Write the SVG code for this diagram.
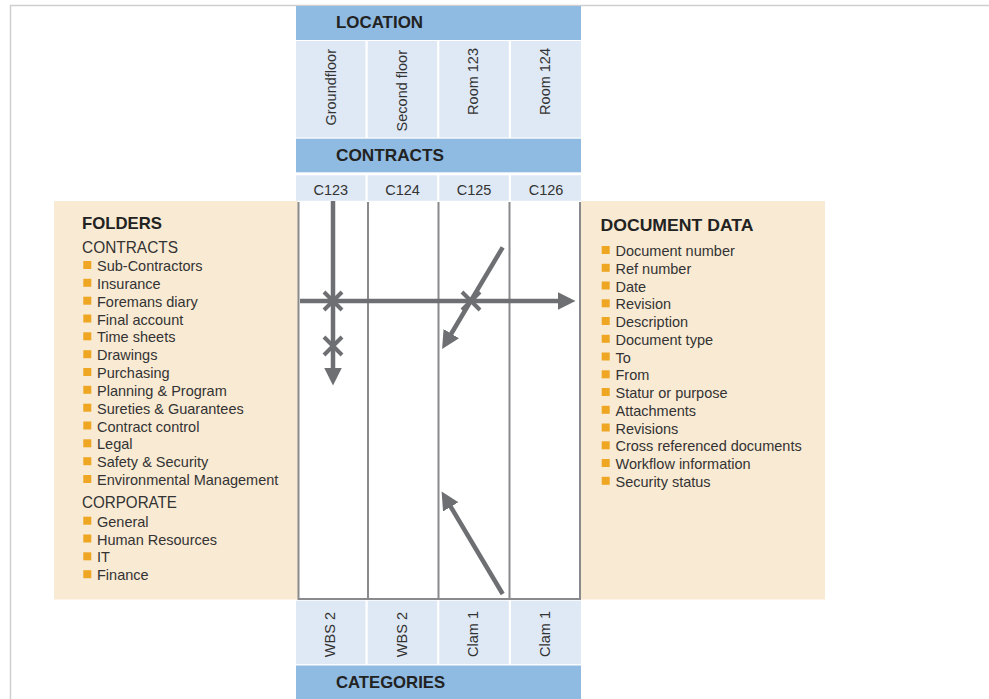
<svg xmlns="http://www.w3.org/2000/svg" width="989" height="699" viewBox="0 0 989 699">
<defs>
<style>
.hdr{fill:#8fbae1}
.cell{fill:#dfe9f5}
.beige{fill:#f9ead3}
.ht{font-family:"Liberation Sans",Arial,sans-serif;font-weight:bold;font-size:17px;fill:#222}
.t{font-family:"Liberation Sans",Arial,sans-serif;font-size:14.5px;fill:#333}
.sub{font-family:"Liberation Sans",Arial,sans-serif;font-size:17px;fill:#333}
.b{fill:#eea623}
.grid{stroke:#8a8a8d;stroke-width:2;fill:none}
.arr{stroke:#6e6f73;stroke-width:4.5;fill:none}
.x{stroke:#6e6f73;stroke-width:4;fill:none}
</style>
<marker id="ah" markerWidth="4" markerHeight="4" refX="1" refY="2" orient="auto" markerUnits="strokeWidth" viewBox="0 0 4 4">
<path d="M0,0 L4,2 L0,4 z" fill="#6e6f73"/>
</marker>
</defs>
<rect width="989" height="699" fill="#fff"/>
<path d="M10.5,699 V5.5 H989" stroke="#cfcfcf" stroke-width="1.5" fill="none"/>

<g id="location">
<rect class="hdr" x="296" y="6" width="285" height="34"/>
<text class="ht" x="336" y="28" textLength="87" lengthAdjust="spacingAndGlyphs">LOCATION</text>
<rect class="cell" x="296" y="41" width="69.5" height="96.5"/>
<rect class="cell" x="367.7" y="41" width="69.5" height="96.5"/>
<rect class="cell" x="439.3" y="41" width="69.5" height="96.5"/>
<rect class="cell" x="511" y="41" width="70" height="96.5"/>
<text class="t" text-anchor="end" transform="translate(336,49) rotate(-90)">Groundfloor</text>
<text class="t" text-anchor="end" transform="translate(407,50) rotate(-90)">Second floor</text>
<text class="t" text-anchor="end" transform="translate(478,48) rotate(-90)">Room 123</text>
<text class="t" text-anchor="end" transform="translate(549.5,48) rotate(-90)">Room 124</text>
</g>

<g id="contracts">
<rect class="hdr" x="296" y="138.7" width="285" height="33.6"/>
<text class="ht" x="336" y="161" textLength="108" lengthAdjust="spacingAndGlyphs">CONTRACTS</text>
<rect class="cell" x="296" y="175.3" width="69.5" height="25.5"/>
<rect class="cell" x="367.7" y="175.3" width="69.5" height="25.5"/>
<rect class="cell" x="439.3" y="175.3" width="69.5" height="25.5"/>
<rect class="cell" x="511" y="175.3" width="70" height="25.5"/>
<text class="t" x="330.8" y="195" text-anchor="middle">C123</text>
<text class="t" x="402.5" y="195" text-anchor="middle">C124</text>
<text class="t" x="474" y="195" text-anchor="middle">C125</text>
<text class="t" x="546" y="195" text-anchor="middle">C126</text>
</g>

<g id="folders">
<rect class="beige" x="54" y="201" width="244" height="398.5"/>
<text class="ht" x="82" y="228.5" textLength="80" lengthAdjust="spacingAndGlyphs">FOLDERS</text>
<text class="sub" x="82" y="252.7" textLength="96" lengthAdjust="spacingAndGlyphs">CONTRACTS</text>
<g class="b">
<rect x="83.3" y="261" width="8" height="8"/>
<rect x="83.3" y="278.8" width="8" height="8"/>
<rect x="83.3" y="296.7" width="8" height="8"/>
<rect x="83.3" y="314.5" width="8" height="8"/>
<rect x="83.3" y="332.3" width="8" height="8"/>
<rect x="83.3" y="350.2" width="8" height="8"/>
<rect x="83.3" y="368" width="8" height="8"/>
<rect x="83.3" y="385.8" width="8" height="8"/>
<rect x="83.3" y="403.7" width="8" height="8"/>
<rect x="83.3" y="421.5" width="8" height="8"/>
<rect x="83.3" y="439.3" width="8" height="8"/>
<rect x="83.3" y="457.2" width="8" height="8"/>
<rect x="83.3" y="475" width="8" height="8"/>
<rect x="83.3" y="516.7" width="8" height="8"/>
<rect x="83.3" y="534.5" width="8" height="8"/>
<rect x="83.3" y="552.3" width="8" height="8"/>
<rect x="83.3" y="570.2" width="8" height="8"/>
</g>
<text class="t" x="97" y="271">Sub-Contractors</text>
<text class="t" x="97" y="288.8">Insurance</text>
<text class="t" x="97" y="306.7">Foremans diary</text>
<text class="t" x="97" y="324.5">Final account</text>
<text class="t" x="97" y="342.3">Time sheets</text>
<text class="t" x="97" y="360.2">Drawings</text>
<text class="t" x="97" y="378">Purchasing</text>
<text class="t" x="97" y="395.8">Planning &amp; Program</text>
<text class="t" x="97" y="413.7">Sureties &amp; Guarantees</text>
<text class="t" x="97" y="431.5">Contract control</text>
<text class="t" x="97" y="449.3">Legal</text>
<text class="t" x="97" y="467.2">Safety &amp; Security</text>
<text class="t" x="97" y="485">Environmental Management</text>
<text class="sub" x="82" y="508.3" textLength="95" lengthAdjust="spacingAndGlyphs">CORPORATE</text>
<text class="t" x="97" y="526.7">General</text>
<text class="t" x="97" y="544.5">Human Resources</text>
<text class="t" x="97" y="562.3">IT</text>
<text class="t" x="97" y="580.2">Finance</text>
</g>

<g id="document-data">
<rect class="beige" x="581" y="201" width="244" height="398.5"/>
<text class="ht" x="600.5" y="230.7" textLength="153" lengthAdjust="spacingAndGlyphs">DOCUMENT DATA</text>
<g class="b">
<rect x="601.7" y="246" width="8" height="8"/>
<rect x="601.7" y="263.8" width="8" height="8"/>
<rect x="601.7" y="281.5" width="8" height="8"/>
<rect x="601.7" y="299.3" width="8" height="8"/>
<rect x="601.7" y="317" width="8" height="8"/>
<rect x="601.7" y="334.8" width="8" height="8"/>
<rect x="601.7" y="352.5" width="8" height="8"/>
<rect x="601.7" y="370.3" width="8" height="8"/>
<rect x="601.7" y="388" width="8" height="8"/>
<rect x="601.7" y="405.8" width="8" height="8"/>
<rect x="601.7" y="423.5" width="8" height="8"/>
<rect x="601.7" y="441.3" width="8" height="8"/>
<rect x="601.7" y="459" width="8" height="8"/>
<rect x="601.7" y="476.8" width="8" height="8"/>
</g>
<text class="t" x="615.5" y="256">Document number</text>
<text class="t" x="615.5" y="273.8">Ref  number</text>
<text class="t" x="615.5" y="291.5">Date</text>
<text class="t" x="615.5" y="309.3">Revision</text>
<text class="t" x="615.5" y="327">Description</text>
<text class="t" x="615.5" y="344.8">Document type</text>
<text class="t" x="615.5" y="362.5">To</text>
<text class="t" x="615.5" y="380.3">From</text>
<text class="t" x="615.5" y="398">Statur or purpose</text>
<text class="t" x="615.5" y="415.8">Attachments</text>
<text class="t" x="615.5" y="433.5">Revisions</text>
<text class="t" x="615.5" y="451.3">Cross referenced documents</text>
<text class="t" x="615.5" y="469">Workflow information</text>
<text class="t" x="615.5" y="486.8">Security status</text>
</g>

<g id="grid">
<path class="grid" d="M298.5,202 V599 H580 V202 M368,202 V599 M438.5,202 V599 M509.5,202 V599" />
</g>

<g id="categories">
<rect class="cell" x="296" y="600.7" width="69.5" height="63.5"/>
<rect class="cell" x="367.7" y="600.7" width="69.5" height="63.5"/>
<rect class="cell" x="439.3" y="600.7" width="69.5" height="63.5"/>
<rect class="cell" x="511" y="600.7" width="70" height="63.5"/>
<text class="t" text-anchor="end" transform="translate(335,612) rotate(-90)">WBS 2</text>
<text class="t" text-anchor="end" transform="translate(406.5,612) rotate(-90)">WBS 2</text>
<text class="t" text-anchor="end" transform="translate(478,611) rotate(-90)">Clam 1</text>
<text class="t" text-anchor="end" transform="translate(549.5,611) rotate(-90)">Clam 1</text>
<rect class="hdr" x="296" y="665.5" width="285" height="33.5"/>
<text class="ht" x="336" y="688" textLength="109" lengthAdjust="spacingAndGlyphs">CATEGORIES</text>
</g>

<g id="connectors">
<line class="arr" x1="333" y1="201" x2="333" y2="372" marker-end="url(#ah)"/>
<line class="arr" x1="300" y1="301" x2="562" y2="301" marker-end="url(#ah)"/>
<line class="arr" x1="502.7" y1="247.3" x2="449" y2="337.5" marker-end="url(#ah)"/>
<line class="arr" x1="502.7" y1="594" x2="448.5" y2="503" marker-end="url(#ah)"/>
<path class="x" d="M324,292 L342,310 M342,292 L324,310"/>
<path class="x" d="M324,337 L342,355 M342,337 L324,355"/>
<path class="x" d="M462,292 L480,310 M480,292 L462,310"/>
</g>
</svg>
